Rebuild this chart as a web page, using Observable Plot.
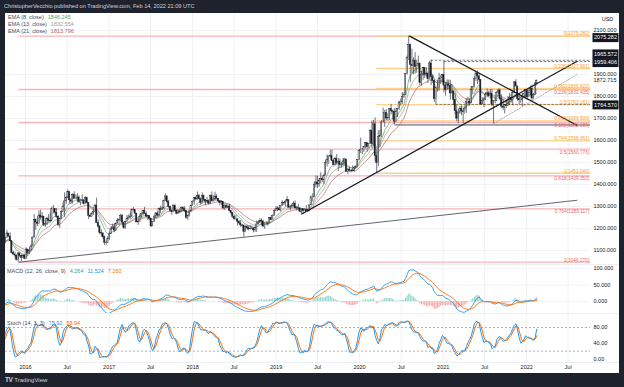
<!DOCTYPE html>
<html><head><meta charset="utf-8">
<script src="https://cdn.jsdelivr.net/npm/d3@7"></script>
<script src="https://cdn.jsdelivr.net/npm/@observablehq/plot@0.6"></script>
<style>
body{margin:0;width:624px;height:387px;background:#1e222d;overflow:hidden;font-family:"Liberation Sans",Arial,sans-serif;position:relative}
#hdr{position:absolute;left:4px;top:3px;font-size:5.6px;color:#d1d4dc;white-space:nowrap}
#panel{position:absolute;left:5px;top:13px;width:614px;height:360px;background:#fff;overflow:hidden}
.pane{position:absolute;left:0;width:614px}
.sep{position:absolute;left:0;width:614px;height:1px;background:#eceff4}
.leg{position:absolute;font-size:5.5px;color:#4a4e59;white-space:nowrap;line-height:7.35px}
.leg span{margin-left:4px}
#ftr{position:absolute;left:5px;top:376px;font-size:6px;color:#d1d4dc;white-space:nowrap}
#ftr b{font-size:6.5px;letter-spacing:-0.5px;margin-right:2px}
</style></head><body>
<div id="hdr">ChristopherVecchio published on TradingView.com, Feb 14, 2022 21:09 UTC</div>
<div id="panel">
  <div class="pane" id="main" style="top:0"></div>
  <div class="pane" id="macd" style="top:251px"></div>
  <div class="pane" id="stoch" style="top:300px"></div>
  <div class="sep" style="top:251px"></div>
  <div class="sep" style="top:300px"></div>
  <div class="sep" style="top:349px"></div>
  <div class="leg" id="legMain" style="left:3px;top:0.5px"></div>
  <div class="leg" id="legMacd" style="left:2px;top:254.5px"></div>
  <div class="leg" id="legStoch" style="left:2px;top:306.5px"></div>
</div>
<div id="ftr"><b>TV</b>TradingView</div>
<script>
// ---------- DATA (weekly gold candles: [close, high, low]) ----------
const w2015 = [[1168,1196,1162],[1180,1193,1171],[1201,1205,1175],[1173,1205,1169],[1168,1182,1162],
[1157,1173,1148],[1133,1162,1131],[1096,1134,1077],[1095,1104,1080],
[1094,1104,1085],[1113,1126,1092],[1160,1170,1112],[1134,1168,1118],[1121,1147,1115],
[1107,1125,1098],[1139,1141,1102],[1145,1157,1125],[1137,1143,1104],
[1156,1160,1131],[1177,1191,1156],[1163,1177,1159],[1142,1180,1140],
[1088,1142,1084],[1081,1097,1077],[1076,1092,1062],[1056,1080,1052],[1086,1089,1046.27],
[1075,1088,1066],[1065,1080,1049],[1075,1081,1066],[1061,1082,1058]];
const w2016 = [[1104,1112,1060],[1089,1104,1071],[1097,1112,1080],[1117,1127,1098],
[1158,1161,1118],[1239,1263,1160],[1227,1242,1191],[1221,1253,1208],[1259,1280,1227],
[1249,1283,1238],[1254,1272,1226],[1216,1253,1208],[1221,1244,1206],
[1242,1250,1213],[1235,1263,1225],[1232,1270,1228],[1290,1297,1233],
[1290,1304,1266],[1272,1282,1262],[1252,1290,1246],[1215,1258,1209],[1243,1246,1200],
[1276,1280,1240],[1299,1316,1273],[1323,1362,1250],[1340,1345,1310],
[1366,1375,1335],[1328,1358,1310],[1322,1336,1310],[1351,1358,1311],
[1335,1367,1333],[1335,1353,1330],[1341,1358,1317],[1320,1347,1316],[1327,1333,1303],
[1328,1352,1323],[1310,1330,1306],[1338,1344,1310],[1316,1342,1311],
[1257,1318,1241],[1252,1266,1250],[1266,1274,1252],[1275,1285,1258],[1304,1308,1272],
[1225,1338,1222],[1208,1239,1203],[1178,1214,1171],[1177,1194,1160],
[1160,1180,1151],[1134,1166,1123],[1133,1143,1124],[1152,1163,1131]];
const w2017 = [[1173,1184,1146],[1196,1207,1178],[1205,1219,1195],[1190,1220,1180],[1220,1225,1188],
[1234,1245,1219],[1239,1244,1216],[1257,1264,1229],[1226,1264,1224],
[1201,1230,1195],[1229,1233,1197],[1244,1259,1229],[1249,1261,1238],
[1254,1270,1241],[1285,1288,1250],[1284,1295,1278],[1268,1283,1262],
[1227,1268,1226],[1228,1237,1214],[1254,1265,1227],[1267,1269,1247],[1279,1282,1259],
[1266,1296,1264],[1254,1275,1249],[1256,1260,1236],[1242,1258,1236],
[1209,1242,1205],[1228,1231,1208],[1254,1256,1227],[1268,1272,1245],[1258,1275,1251],
[1290,1292,1256],[1285,1301,1268],[1291,1298,1281],[1325,1329,1286],
[1346,1357,1324],[1320,1338,1314],[1297,1328,1292],[1280,1301,1276],
[1274,1282,1261],[1304,1306,1272],[1280,1306,1278],[1266,1283,1262],[1269,1284,1264],
[1274,1288,1269],[1294,1297,1271],[1288,1298,1276],[1280,1299,1272],
[1248,1278,1242],[1256,1262,1236],[1278,1280,1252],[1303,1306,1276]];
const w2018 = [[1320,1326,1301],[1338,1341,1307],[1332,1345,1325],[1349,1366,1328],[1333,1355,1330],
[1316,1339,1306],[1347,1362,1314],[1330,1352,1321],[1322,1332,1303],
[1324,1341,1316],[1313,1330,1307],[1347,1352,1308],[1325,1366,1322],
[1332,1348,1321],[1345,1365,1329],[1335,1354,1332],[1323,1337,1316],[1315,1327,1302],
[1320,1326,1305],[1291,1322,1285],[1302,1307,1282],[1294,1308,1290],
[1298,1303,1290],[1279,1310,1276],[1270,1281,1261],[1253,1272,1245],
[1241,1262,1238],[1241,1260,1237],[1231,1245,1211],[1223,1237,1218],[1214,1236,1204],
[1212,1219,1207],[1184,1217,1160],[1206,1213,1183],[1201,1214,1190],
[1196,1212,1189],[1198,1214,1193],[1199,1211,1195],[1191,1204,1180],
[1203,1210,1182],[1218,1233,1182],[1227,1233,1217],[1235,1244,1221],[1232,1243,1211],
[1209,1237,1204],[1222,1225,1196],[1222,1231,1215],[1221,1230,1211],
[1248,1250,1222],[1238,1252,1235],[1257,1262,1236],[1280,1283,1256],[1287,1299,1276]];
const w2019 = [[1291,1298,1277],[1282,1298,1280],[1303,1304,1276],[1317,1326,1300],
[1314,1318,1304],[1322,1328,1298],[1329,1346,1320],[1294,1330,1292],
[1298,1302,1281],[1302,1311,1290],[1313,1321,1297],[1292,1325,1287],
[1291,1298,1280],[1290,1310,1285],[1276,1295,1271],[1287,1290,1266],[1280,1290,1266],
[1285,1290,1279],[1276,1304,1274],[1284,1288,1272],[1305,1306,1276],
[1341,1348,1305],[1341,1358,1321],[1399,1411,1342],[1409,1439,1385],
[1400,1437,1382],[1416,1427,1386],[1426,1453,1402],[1419,1434,1410],[1440,1448,1400],
[1497,1510,1441],[1513,1535,1480],[1527,1530,1492],[1529,1555,1521],
[1507,1557,1504],[1488,1516,1485],[1516,1525,1484],[1497,1536,1490],[1504,1519,1459],
[1489,1517,1474],[1490,1499,1475],[1505,1518,1482],[1514,1519,1485],
[1458,1513,1456],[1468,1474,1445],[1463,1478,1456],[1464,1466,1453],
[1460,1485,1458],[1476,1483,1456],[1479,1485,1470],[1511,1513,1476],[1552,1556,1508]];
const w2020 = [[1557,1611,1541],[1557,1564,1536],[1571,1574,1546],[1589,1591,1562],
[1570,1591,1547],[1584,1587,1562],[1643,1649,1582],[1585,1689,1563],
[1674,1692,1574],[1530,1703,1504],[1498,1557,1451.04],[1617,1645,1482],[1620,1645,1567],
[1683,1690,1613],[1683,1747,1681],[1726,1737,1660],[1700,1741,1690],
[1703,1723,1688],[1743,1745,1692],[1734,1765,1716],[1730,1738,1693],
[1685,1745,1671],[1730,1745,1696],[1743,1746,1705],[1771,1779,1738],[1774,1789,1757],
[1799,1818,1764],[1808,1817,1792],[1902,1905,1805],[1975,1984,1899],
[2035,2075.28,1964],[1945,2039,1863],[1940,2016,1902],[1964,1977,1900],[1934,2000,1902],
[1940,1966,1906],[1950,1984,1929],[1862,1952,1849],[1900,1916,1848],
[1930,1933,1874],[1899,1933,1883],[1902,1932,1890],[1879,1913,1860],
[1951,1960,1876],[1889,1965.57,1850],[1871,1898,1860],[1788,1876,1774],[1839,1848,1764.57],
[1839,1875,1820],[1882,1906,1825],[1883,1897,1855],[1898,1901,1862]];
const w2021 = [[1850,1959.41,1817],[1829,1864,1802],[1855,1876,1836],[1848,1875,1831],
[1814,1875,1785],[1824,1855,1822],[1784,1824,1761],[1734,1815,1716],
[1700,1760,1687],[1727,1740,1676.9],[1745,1755,1719],[1733,1756,1713],[1729,1744,1678],
[1744,1758,1721],[1777,1790,1724],[1777,1797,1762],[1769,1790,1756],
[1831,1843,1770],[1843,1845,1808],[1881,1890,1839],[1905,1912,1868],[1892,1916,1855],
[1877,1903,1865],[1764,1878,1761],[1781,1795,1766],[1787,1795,1750],
[1808,1818,1782],[1815,1834,1795],[1802,1824,1794],[1814,1832,1789],
[1763,1832,1754],[1780,1782,1677],[1781,1795,1767],[1818,1823,1778],[1828,1834,1808],
[1788,1834,1782],[1754,1809,1745],[1750,1787,1737],[1761,1765,1721],
[1757,1781,1746],[1768,1801,1755],[1793,1814,1760],[1784,1810,1770],
[1818,1823,1758],[1865,1869,1814],[1846,1877,1846],[1788,1848,1778],[1783,1808,1762],
[1783,1793,1770],[1798,1815,1753],[1811,1814,1789],[1829,1831,1789]];
const w2022 = [[1797,1829,1783],[1817,1830,1797],[1835,1848,1805],[1792,1853,1780],
[1808,1815,1788],[1860,1865,1807],[1872.715,1875,1849]];
const yearBlocks = [["2015-06-01",w2015],["2016-01-04",w2016],["2017-01-02",w2017],["2018-01-01",w2018],
["2019-01-07",w2019],["2020-01-06",w2020],["2021-01-04",w2021],["2022-01-03",w2022]];

// Fibonacci levels
const pinkFib = [{r:"0",price:2075.282},{r:"0.236",price:1832.435},{r:"0.382",price:1682.199},{r:"0.5",price:1560.776},
{r:"0.618",price:1439.353},{r:"0.764",price:1289.117},{r:"1",price:1046.270}];
const pinkFibStart = "2015-12-03";
const orangeFib = [{r:"0",price:2075.282},{r:"0.236",price:1927.961},{r:"0.382",price:1836.822},{r:"0.5",price:1763.161},
{r:"0.618",price:1689.500},{r:"0.764",price:1598.361},{r:"1",price:1451.040}];
const orangeFibStart = "2020-03-16";

// drawn trendlines & levels
const trendLong = [{date:"2015-12-03",price:1046.27},{date:"2022-08-08",price:1328}];
const trendDesc = [{date:"2020-08-07",price:2075.28},{date:"2022-08-08",price:1670}];
const trendRise = [{date:"2019-04-23",price:1266},{date:"2022-08-08",price:1960}];
const trendChannel = [{date:"2021-08-09",price:1677},{date:"2022-08-08",price:1900}];
const dashLevels = [{price:1965.572,from:"2020-11-09"},{price:1959.406,from:"2021-01-06"},{price:1764.570,from:"2020-11-30"}];
const solidLevels = [{price:1671,from:"2020-06-05"}];

const priceTicks = [1100,1200,1300,1400,1500,1600,1700,1800,1900,2100];
const boxLabels = [{price:2075.282},{price:1965.572},{price:1959.406},{price:1764.570}];
const lastPrice = [{price:1872.715}];
const macdTicks = [0,50,100];
const stochTicks = [0,40,80];
const stochBands = [80,20];
const yearTicks = [2016,2017,2018,2019,2020,2021,2022];

const emaLegend = [["EMA (8, close)","1846.245"],["EMA (13, close)","1832.554"],["EMA (21, close)","1813.796"]];
const macdLegend = {label:"MACD (12, 26, close, 9)", values:["4.264","11.524","7.260"]};
const stochLegend = {label:"Stoch (14, 3, 3)", values:["75.92","58.94"]};

// ---------- BUILD ----------
const DAY = 864e5;
const candles = [];
let prev = null;
for (const [start, rows] of yearBlocks) {
  const t0 = Date.parse(start + "T00:00:00Z");
  rows.forEach(([c,h,l], i) => {
    const o = prev == null ? c : prev;
    candles.push({date:new Date(t0 + i*7*DAY), open:o, close:c, high:Math.max(h,o,c), low:Math.min(l,o,c)});
    prev = c;
  });
}
function ema(vals, n){ const k = 2/(n+1); let e; return vals.map(v => (e = e === undefined ? v : v*k + e*(1-k))); }
const closes = candles.map(d => d.close);
const e8 = ema(closes,8), e13 = ema(closes,13), e21 = ema(closes,21);
const e12 = ema(closes,12), e26 = ema(closes,26);
const macd = e12.map((v,i) => v - e26[i]);
const sig = ema(macd, 9);
const raw = candles.map((d,i) => {
  if (i < 13) return null;
  const win = candles.slice(i-13, i+1);
  const hh = d3.max(win, w => w.high), ll = d3.min(win, w => w.low);
  return 100*(d.close - ll)/(hh - ll);
});
const sma3 = arr => arr.map((v,i) => (i < 2 || arr[i] == null || arr[i-1] == null || arr[i-2] == null) ? null : (arr[i]+arr[i-1]+arr[i-2])/3);
const K = sma3(raw), D = sma3(K);
candles.forEach((d,i) => { d.e8=e8[i]; d.e13=e13[i]; d.e21=e21[i]; d.macd=macd[i]; d.sig=sig[i]; d.hist=macd[i]-sig[i]; d.k=K[i]; d.d=D[i]; });
const ind = candles.filter((d,i) => i >= 10);
const stochData = candles.filter(d => d.d != null);

const D0 = new Date("2015-10-05T12:00:00Z"), D1 = new Date("2022-10-07T00:00:00Z");
const xTicks = yearTicks.flatMap(y => [new Date(Date.UTC(y,0,1)), new Date(Date.UTC(y,6,1))]);
const FONT = '"Liberation Sans", Arial, sans-serif';
const TXT = "#131722";
const common = {width:614, marginLeft:0, marginRight:29, marginTop:0, marginBottom:0,
  style:{fontFamily:FONT, fontSize:"5.5px", color:TXT, background:"transparent", overflow:"visible"}};
const X = {type:"utc", domain:[D0, D1], axis:null};
const GRID = "#f0f2f6";
const boxSym = {draw(ctx){ ctx.moveTo(-13,-4.5); ctx.lineTo(13,-4.5); ctx.lineTo(13,4.5); ctx.lineTo(-13,4.5); ctx.closePath(); }};
const nudge = {"2075.282":1.5, "1965.572":-6.3, "1959.406":1, "1764.570":0.5};
const C_E8 = "#5aa55e", C_E13 = "#9c9c9c", C_E21 = "#b5655f";
const fibText = d => `${d.r}(${d.price.toFixed(3)})`;

const boxMarks = boxLabels.flatMap(b => {
  const dy = nudge[b.price.toFixed(3)] || 0;
  return [
    Plot.dot([b], {y:"price", frameAnchor:"right", dx:15, dy, symbol:boxSym, fill:TXT, stroke:null, r:1}),
    Plot.text([b], {y:"price", frameAnchor:"right", dx:15, dy, text:d => d.price.toFixed(3), fill:"#fff", textAnchor:"middle", fontSize:5.5})
  ];
});

const main = Plot.plot({...common, height:251, x:X, y:{domain:[1035.8, 2178.3]},
  marks:[
    Plot.gridX(xTicks, {stroke:GRID, strokeOpacity:1}),
    Plot.gridY(priceTicks, {stroke:GRID, strokeOpacity:1}),
    Plot.ruleY(pinkFib, {y:"price", x1:() => new Date(pinkFibStart), x2:() => D1, stroke:"#f7b3b9", strokeWidth:1.3}),
    Plot.ruleY(orangeFib, {y:"price", x1:() => new Date(orangeFibStart), x2:() => D1, stroke:"#ffd08a", strokeWidth:1.3}),
    Plot.ruleY(dashLevels, {y:"price", x1:d => new Date(d.from), x2:() => D1, stroke:"#5d606b", strokeWidth:0.8, strokeDasharray:"2.5,1.5"}),
    Plot.ruleY(solidLevels, {y:"price", x1:d => new Date(d.from), x2:() => D1, stroke:"#3b3e48", strokeWidth:0.9}),
    Plot.line(candles, {x:"date", y:"e21", stroke:C_E21, strokeWidth:0.7, clip:true}),
    Plot.line(candles, {x:"date", y:"e13", stroke:C_E13, strokeWidth:0.7, clip:true}),
    Plot.line(candles, {x:"date", y:"e8", stroke:C_E8, strokeWidth:0.7, clip:true}),
    Plot.ruleX(candles, {x:"date", y1:"low", y2:"high", stroke:TXT, strokeWidth:0.6, clip:true}),
    Plot.rect(candles, {x1:d => new Date(+d.date - 2.3*DAY), x2:d => new Date(+d.date + 2.3*DAY), y1:"open", y2:"close",
      fill:d => d.close >= d.open ? "#ffffff" : TXT, stroke:TXT, strokeWidth:0.45, clip:true}),
    Plot.line(trendLong, {x:d => new Date(d.date), y:"price", stroke:"#50535e", strokeWidth:0.9}),
    Plot.line(trendDesc, {x:d => new Date(d.date), y:"price", stroke:TXT, strokeWidth:1.2}),
    Plot.line(trendRise, {x:d => new Date(d.date), y:"price", stroke:TXT, strokeWidth:1.2}),
    Plot.line(trendChannel, {x:d => new Date(d.date), y:"price", stroke:"#9598a1", strokeWidth:0.8, strokeDasharray:"1.5,1.5"}),
    Plot.text(pinkFib.filter(d => d.r !== "0" && d.r !== "1"), {y:"price", frameAnchor:"right", dx:-1, dy:2.8, textAnchor:"end",
      text:fibText, fill:"#ef5f6c", fontSize:4.8}),
    Plot.text(pinkFib.filter(d => d.r === "1"), {y:"price", frameAnchor:"right", dx:-1, dy:-2.2, textAnchor:"end",
      text:fibText, fill:"#ef5f6c", fontSize:4.8}),
    Plot.text(orangeFib, {y:"price", frameAnchor:"right", dx:-1, dy:-2.2, textAnchor:"end",
      text:fibText, fill:"#ff9a1f", fontSize:4.8}),
    Plot.axisY(priceTicks, {anchor:"right", tickSize:0, tickPadding:3, tickFormat:d => d.toFixed(3), label:null}),
    Plot.text(lastPrice, {y:"price", frameAnchor:"right", dx:3, textAnchor:"start", text:d => d.price.toFixed(3), fill:TXT}),
    ...boxMarks,
    Plot.text(["USD"], {frameAnchor:"top-right", dx:17, dy:4, text:d => d, textAnchor:"middle", fill:TXT})
  ]});
document.getElementById("main").append(main);

const macdPlot = Plot.plot({...common, height:49, x:X, y:{domain:[-35.8, 112.7]},
  marks:[
    Plot.gridX(xTicks, {stroke:GRID, strokeOpacity:1}),
    Plot.gridY(macdTicks, {stroke:GRID, strokeOpacity:1}),
    Plot.ruleX(ind, {x:"date", y1:0, y2:"hist", stroke:d => d.hist >= 0 ? "#8fd3cb" : "#f5a5a5", strokeWidth:1.1, clip:true}),
    Plot.line(ind, {x:"date", y:"macd", stroke:"#2196f3", strokeWidth:0.9, clip:true}),
    Plot.line(ind, {x:"date", y:"sig", stroke:"#ff6d00", strokeWidth:0.9, clip:true}),
    Plot.axisY(macdTicks, {anchor:"right", tickSize:0, tickPadding:3, tickFormat:d => d.toFixed(3), label:null})
  ]});
document.getElementById("macd").append(macdPlot);

const stochPlot = Plot.plot({...common, height:60, marginBottom:11, x:{type:"utc", domain:[D0, D1]}, y:{domain:[-8.9, 115.5]},
  marks:[
    Plot.gridX(xTicks, {stroke:GRID, strokeOpacity:1}),
    Plot.ruleY(stochBands, {stroke:"#8a8d97", strokeWidth:0.7, strokeDasharray:"2,2"}),
    Plot.line(stochData, {x:"date", y:"d", stroke:"#ff6d00", strokeWidth:1, clip:true}),
    Plot.line(stochData, {x:"date", y:"k", stroke:"#2196f3", strokeWidth:1, clip:true}),
    Plot.axisY(stochTicks, {anchor:"right", tickSize:0, tickPadding:3, tickFormat:d => d.toFixed(2), label:null}),
    Plot.axisX(xTicks, {anchor:"bottom", tickSize:0, tickPadding:2.5, label:null,
      tickFormat:d => d.getUTCMonth() === 0 ? String(d.getUTCFullYear()) : "Jul"})
  ]});
document.getElementById("stoch").append(stochPlot);

// legends
const legMain = document.getElementById("legMain");
const emaCols = [C_E8, C_E13, C_E21];
legMain.innerHTML = emaLegend.map((r,i) => `<div>${r[0]}<span style="color:${emaCols[i]}">${r[1]}</span></div>`).join("");
const macdCols = ["#26a69a","#2196f3","#ff6d00"];
document.getElementById("legMacd").innerHTML = macdLegend.label + macdLegend.values.map((v,i) => `<span style="color:${macdCols[i]}">${v}</span>`).join("");
const stCols = ["#2196f3","#ff6d00"];
document.getElementById("legStoch").innerHTML = stochLegend.label + stochLegend.values.map((v,i) => `<span style="color:${stCols[i]}">${v}</span>`).join("");
</script>
</body></html>
